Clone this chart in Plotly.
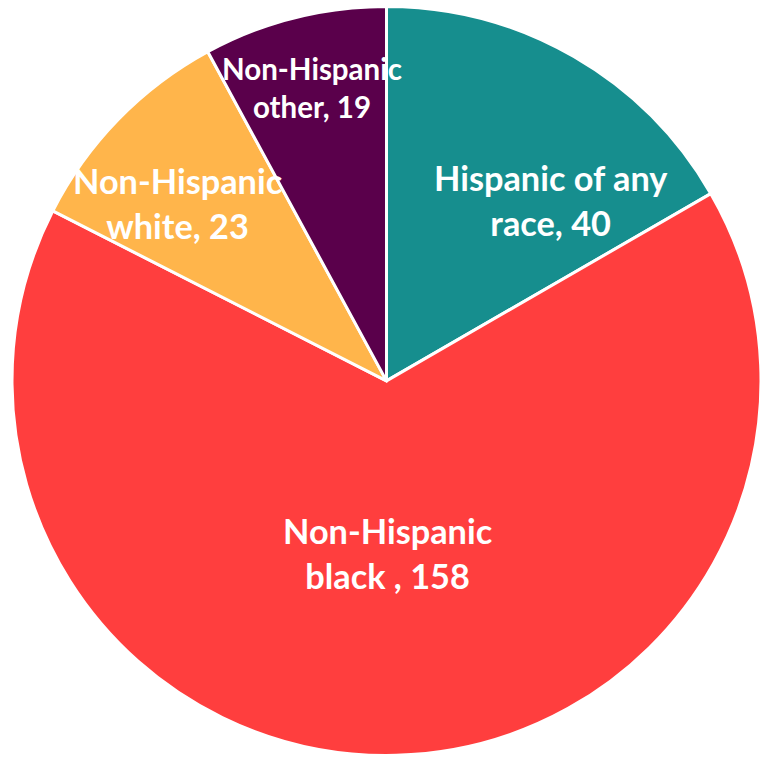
import plotly.graph_objects as go

# Respondents by race / ethnicity
groups = ["Hispanic of any<br>race", "Non-Hispanic<br>black ", "Non-Hispanic<br>white", "Non-Hispanic<br>other"]
counts = [40, 158, 23, 19]
colors = ["#168E8E", "#FF3E3E", "#FFB54B", "#5A004B"]

W, H = 761, 758

fig = go.Figure(
    go.Pie(
        labels=groups,
        values=counts,
        sort=False,
        direction="clockwise",
        rotation=0,
        marker=dict(colors=colors, line=dict(color="white", width=3)),
        textinfo="none",
        hoverinfo="label+value",
        domain=dict(x=[12 / W, 1], y=[0, 0.995]),
        showlegend=False,
    )
)

# label centres (pixels) and font sizes for each slice
label_px = [(551, 200), (387, 553), (177, 203), (312, 88)]
label_size = [34.3, 34.3, 34.3, 29.5]

for g, v, (px, py), s in zip(groups, counts, label_px, label_size):
    fig.add_annotation(
        x=px / W, y=1 - py / H, xref="paper", yref="paper",
        text=f"{g}, {v}", showarrow=False,
        xanchor="center", yanchor="middle", align="center",
        font=dict(family="Lato", size=s, color="white", weight="bold"),
    )

fig.update_layout(
    width=W, height=H,
    margin=dict(l=0, r=0, t=0, b=0),
    paper_bgcolor="white", plot_bgcolor="white",
)

fig.write_html("out.html")
